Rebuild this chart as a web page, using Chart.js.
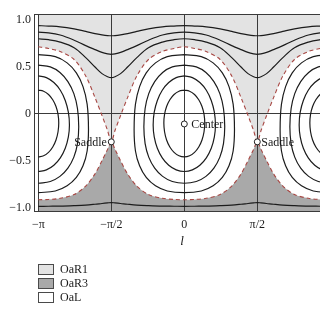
<!DOCTYPE html>
<html><head><meta charset="utf-8">
<script src="https://cdn.jsdelivr.net/npm/chart.js@4.4.1/dist/chart.umd.min.js"></script>
<style>
html,body{margin:0;padding:0;background:#fff;overflow:hidden;width:320px;height:320px}
#wrap{position:absolute;left:0;top:0;width:340px;height:320px}
</style>
</head><body><div id="wrap"><canvas id="c" width="340" height="320"></canvas></div>
<script>
const PI = Math.PI;
// ---- axis ticks ----
const xTickValues = [-PI, -PI/2, 0, PI/2, PI];
const xTickLabels = ['\u2212\u03c0', '\u2212\u03c0/2', '0', '\u03c0/2', '\u03c0'];
const yTickValues = [-1, -0.5, 0, 0.5, 1];
const yTickLabels = ['\u22121.0', '\u22120.5', '0', '0.5', '1.0'];
const xLabel = 'l';
// ---- legend ----
const legendLabels = ['OaR1', 'OaR3', 'OaL'];
// ---- l grid for curves spanning the whole width ----
const lGrid = [-3.142,-2.921,-2.671,-2.371,-2.121,-1.921,-1.771,-1.651,-1.571,-1.491,-1.371,-1.221,-1.021,-0.771,-0.471,-0.221,0,0.221,0.471,0.771,1.021,1.221,1.371,1.491,1.571,1.651,1.771,1.921,2.121,2.371,2.671,2.921,3.142];
// separatrix (dashed)
const sepUpper = [0.71,0.692,0.66,0.575,0.40,0.17,-0.02,-0.18,-0.30,-0.18,-0.02,0.17,0.40,0.575,0.66,0.692,0.71,0.692,0.66,0.575,0.40,0.17,-0.02,-0.18,-0.30,-0.18,-0.02,0.17,0.40,0.575,0.66,0.692,0.71];
const sepLower = [-0.915,-0.912,-0.90,-0.86,-0.77,-0.64,-0.50,-0.38,-0.30,-0.38,-0.50,-0.64,-0.77,-0.86,-0.90,-0.912,-0.915,-0.912,-0.90,-0.86,-0.77,-0.64,-0.50,-0.38,-0.30,-0.38,-0.50,-0.64,-0.77,-0.86,-0.90,-0.912,-0.915];
// rotating curves
const rotA = [0.935,0.93,0.922,0.90,0.873,0.85,0.837,0.829,0.827,0.829,0.837,0.85,0.873,0.90,0.922,0.93,0.935,0.93,0.922,0.90,0.873,0.85,0.837,0.829,0.827,0.829,0.837,0.85,0.873,0.90,0.922,0.93,0.935];
const rotB = [0.865,0.858,0.835,0.78,0.722,0.68,0.65,0.635,0.63,0.635,0.65,0.68,0.722,0.78,0.835,0.858,0.865,0.858,0.835,0.78,0.722,0.68,0.65,0.635,0.63,0.635,0.65,0.68,0.722,0.78,0.835,0.858,0.865];
const rotC = [0.795,0.785,0.76,0.70,0.595,0.495,0.425,0.392,0.382,0.392,0.425,0.495,0.595,0.70,0.76,0.785,0.795,0.785,0.76,0.70,0.595,0.495,0.425,0.392,0.382,0.392,0.425,0.495,0.595,0.70,0.76,0.785,0.795];
const rotD = [-0.985,-0.984,-0.983,-0.978,-0.972,-0.963,-0.955,-0.949,-0.945,-0.949,-0.955,-0.963,-0.972,-0.978,-0.983,-0.984,-0.985,-0.984,-0.983,-0.978,-0.972,-0.963,-0.955,-0.949,-0.945,-0.949,-0.955,-0.963,-0.972,-0.978,-0.983,-0.984,-0.985];
// libration rings: half shape (offset in l from the ring centre, value), top to bottom
const ringCenters = [-PI, 0, PI];
const ring1Dl = [0,0.114,0.22,0.311,0.381,0.425,0.44,0.425,0.381,0.311,0.22,0.114,0];
const ring1V  = [0.25,0.238,0.203,0.147,0.075,-0.009,-0.10,-0.193,-0.28,-0.355,-0.412,-0.448,-0.46];
const ring2Dl = [0,0.174,0.335,0.474,0.58,0.647,0.67,0.647,0.58,0.474,0.335,0.174,0];
const ring2V  = [0.40,0.382,0.33,0.248,0.14,0.015,-0.12,-0.248,-0.368,-0.47,-0.549,-0.598,-0.615];
const ring3Dl = [0,0.258,0.466,0.637,0.765,0.843,0.87,0.843,0.765,0.637,0.466,0.258,0];
const ring3V  = [0.516,0.496,0.437,0.34,0.212,0.054,-0.14,-0.318,-0.462,-0.579,-0.667,-0.721,-0.74];
const ring4Dl = [0,0.366,0.62,0.819,0.962,1.051,1.08,1.051,0.962,0.819,0.62,0.366,0];
const ring4V  = [0.626,0.605,0.539,0.433,0.287,0.10,-0.17,-0.397,-0.555,-0.678,-0.767,-0.822,-0.84];
// equilibrium points
const markerNames = ['Saddle', 'Center', 'Saddle'];
const markerL = [-PI/2, 0, PI/2];
const markerV = [-0.30, -0.11, -0.30];

// ---- styles ----
const FONT = "'Liberation Serif','Times New Roman',serif";
const legendColors = ['#e3e3e3', '#a9a9a9', '#ffffff'];
const LINE = '#1c1c1c';

function series(vals) { return lGrid.map((l, i) => ({x: l, y: vals[i]})); }
function ring(center, dl, v) {
  const pts = [];
  if (center <= 0) dl.forEach((d, i) => pts.push({x: center + d, y: v[i]}));
  if (center >= 0) {
    for (let i = (center === 0 ? dl.length - 2 : 0); i >= 0 && i < dl.length; i += (center === 0 ? -1 : 1)) pts.push({x: center - dl[i], y: v[i]});
  }
  return pts;
}

const datasets = [];
datasets.push({data: markerL.map((l, i) => ({x: l, y: markerV[i]})), showLine: false, pointRadius: 3, pointHoverRadius: 3,
  pointBackgroundColor: '#fff', pointBorderColor: '#222', pointBorderWidth: 1});
datasets.push({data: series(sepUpper), borderColor: 'rgb(168,72,68)', borderDash: [4, 3], borderWidth: 1.1,
  tension: 0.3, pointRadius: 0, fill: 'end', backgroundColor: legendColors[0]});
datasets.push({data: series(sepLower), borderColor: 'rgb(168,72,68)', borderDash: [4, 3], borderWidth: 1.1,
  tension: 0.3, pointRadius: 0, fill: 'start', backgroundColor: legendColors[1]});
[rotA, rotB, rotC, rotD].forEach(v => datasets.push({data: series(v), borderColor: LINE, borderWidth: 1.2, tension: 0.35, pointRadius: 0, fill: false}));
[[ring1Dl, ring1V], [ring2Dl, ring2V], [ring3Dl, ring3V], [ring4Dl, ring4V]].forEach(([dl, v]) => {
  ringCenters.forEach(c => datasets.push({data: ring(c, dl, v), borderColor: LINE, borderWidth: 1.2, tension: 0.4, pointRadius: 0, fill: false}));
});
datasets.forEach(d => { d.xAxisID = 'x'; d.yAxisID = 'y'; });

const labelPlugin = {
  id: 'eqLabels',
  afterDatasetsDraw(chart) {
    const ctx = chart.ctx, xs = chart.scales.x, ys = chart.scales.y;
    ctx.save();
    ctx.font = '12px ' + FONT; ctx.fillStyle = '#1a1a1a'; ctx.textBaseline = 'middle';
    markerNames.forEach((n, i) => {
      const px = xs.getPixelForValue(markerL[i]), py = ys.getPixelForValue(markerV[i]);
      if (markerL[i] < 0) { ctx.textAlign = 'right'; ctx.fillText(n, px - 4.5, py + 0.5); }
      else { ctx.textAlign = 'left'; ctx.fillText(n, px + (n === 'Center' ? 7 : 4), py + 0.5); }
    });
    ctx.restore();
  },
  afterDraw(chart) {
    const ctx = chart.ctx;
    ctx.save();
    ctx.font = '12px ' + FONT; ctx.textBaseline = 'middle'; ctx.textAlign = 'left';
    legendLabels.forEach((t, i) => {
      const y = 264.5 + i * 14;
      ctx.fillStyle = legendColors[i]; ctx.fillRect(38.5, y, 15, 10);
      ctx.strokeStyle = '#4a4a4a'; ctx.lineWidth = 1; ctx.strokeRect(38.5, y, 15, 10);
      ctx.fillStyle = '#1a1a1a'; ctx.fillText(t, 60, y + 5.5);
    });
    ctx.restore();
  }
};

new Chart(document.getElementById('c'), {
  type: 'line',
  data: {datasets},
  plugins: [labelPlugin],
  options: {
    responsive: false, animation: false, devicePixelRatio: 1, events: [],
    layout: {padding: {left: 0, top: 14.3, right: 9.7, bottom: 0}},
    plugins: {legend: {display: false}, tooltip: {enabled: false}, filler: {drawTime: 'beforeDraw'}},
    scales: {
      x: {type: 'linear', min: -3.234, max: PI,
        afterBuildTicks: s => { s.ticks = xTickValues.map(v => ({value: v})); },
        afterFit: s => { s.height = 108.5; },
        ticks: {autoSkip: false, maxRotation: 0, padding: 6, color: '#1a1a1a', font: {family: FONT, size: 12},
          callback: (v, i) => xTickLabels[i]},
        grid: {color: '#3a3a3a', lineWidth: 1, drawTicks: false},
        border: {display: true, color: '#3a3a3a', width: 1},
        title: {display: true, text: xLabel, color: '#1a1a1a', font: {family: FONT, size: 13, style: 'italic'}, padding: {top: 0, bottom: 71}}
      },
      xTop: {type: 'linear', position: 'top', min: -3.234, max: PI,
        ticks: {display: false}, grid: {display: false, drawTicks: false},
        border: {display: true, color: '#3a3a3a', width: 1},
        afterFit: s => { s.height = 0; }
      },
      y: {type: 'linear', min: -1.04, max: 1.055,
        afterBuildTicks: s => { s.ticks = yTickValues.map(v => ({value: v})); },
        afterFit: s => { s.width = 34; },
        ticks: {padding: 3, color: '#1a1a1a', font: {family: FONT, size: 12}, callback: (v, i) => yTickLabels[i]},
        grid: {drawTicks: false, color: c => (c.tick && c.tick.value === 0) ? '#3a3a3a' : 'rgba(0,0,0,0)'},
        border: {display: true, color: '#3a3a3a', width: 1}
      }
    }
  }
});
</script></body></html>
